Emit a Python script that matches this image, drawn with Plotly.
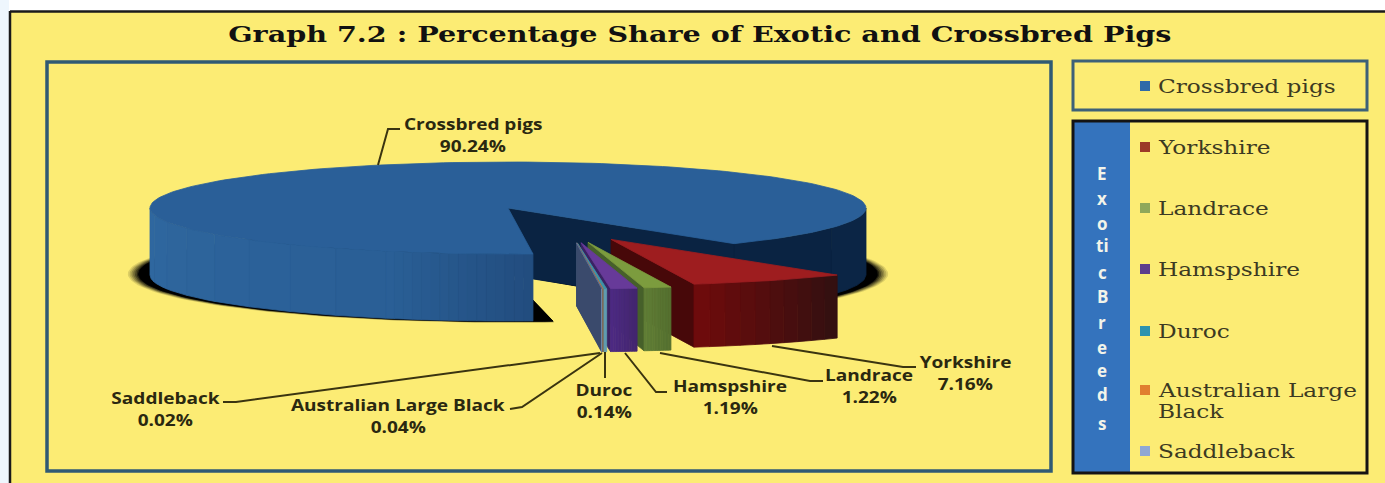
import math
import plotly.graph_objects as go

# ---------- data ----------
breeds = ["Crossbred pigs", "Yorkshire", "Landrace", "Hamspshire", "Duroc",
          "Australian Large Black", "Saddleback"]
shares = [90.24, 7.16, 1.22, 1.19, 0.14, 0.04, 0.02]
legend_colors = ["#2f6aa8", "#9c3a28", "#8fa85a", "#5d3e8c", "#2d93ae", "#e07f30", "#8fa8d4"]
top_colors = ["#2a5f98", "#9e1d1f", "#7c9c3e", "#673a99", "#3f93a8", "#c77a3a", "#5a6d92"]
wall_left = ["#2e669f", "#6d0b0c", "#5f7d36", "#4c2a82", "#5f9cb0", "#8a5a30", "#6f8aa8"]
wall_right = ["#0b2545", "#341010", "#55702f", "#43256f", "#5f9cb0", "#8a5a30", "#6f8aa8"]
side_colors = [None, "#470809", "#46602a", "#3a2363", "#34506e", "#34506e", "#3a4a6c"]

title_text = "Graph 7.2 : Percentage Share of Exotic and Crossbred Pigs"
strip_letters = ["E", "x", "o", "ti", "c", "B", "r", "e", "e", "d", "s"]

# ---------- pie geometry (screen pixels, y down, angles clockwise on screen) ----------
CX, CY, A, B = 508.0, 208.0, 358.0, 46.0
DEPTH_MAIN, DEPTH_EXP = 67.0, 63.0
START = 86.0
GROUP_DX, EXPLODE_X, EXPLODE_Y = 62.0, 92.7, 35.0

total = sum(shares)
spans = [s / total * 360.0 for s in shares]
angles = []
cur = START
for sp in spans:
    angles.append((cur, cur + sp))
    cur += sp


def pt(cx, cy, deg, a=A, b=B):
    t = math.radians(deg)
    return cx + a * math.cos(t), cy + b * math.sin(t)


def arc(cx, cy, a0, a1, a=A, b=B, n=None):
    n = n or max(2, int(abs(a1 - a0) / 1.5) + 2)
    return [pt(cx, cy, a0 + (a1 - a0) * i / (n - 1), a, b) for i in range(n)]


def mix(c0, c1, f):
    v0 = [int(c0[i:i + 2], 16) for i in (1, 3, 5)]
    v1 = [int(c1[i:i + 2], 16) for i in (1, 3, 5)]
    return "#%02x%02x%02x" % tuple(round(p + (q - p) * f) for p, q in zip(v0, v1))


fig = go.Figure()


def poly(points, color, opacity=1.0):
    xs = [p[0] for p in points] + [points[0][0]]
    ys = [p[1] for p in points] + [points[0][1]]
    fig.add_trace(go.Scatter(x=xs, y=ys, mode="lines", fill="toself", fillcolor=color,
                             line=dict(color=color, width=0 if opacity < 1 else 0.8), opacity=opacity,
                             hoverinfo="skip", showlegend=False))


def wall(cx, cy, a0, a1, depth, c0, c1, steps):
    for i in range(steps):
        b0 = a0 + (a1 - a0) * i / steps
        b1 = a0 + (a1 - a0) * (i + 1) / steps
        top = arc(cx, cy, b0, b1, n=5)
        bottom = [(x, y + depth) for x, y in reversed(top)]
        poly(top + bottom, mix(c0, c1, i / max(1, steps - 1)))


# soft shadow under the big slice: many faint layers, then a solid core
c0, c1 = angles[0]
for scale, op in [(1.062, 0.12), (1.057, 0.15), (1.052, 0.2), (1.047, 0.25),
                  (1.042, 0.35), (1.037, 0.5), (1.032, 1.0)]:
    a_s, b_s = A * scale, B * scale
    poly([(CX, CY + 66)] + arc(CX, CY + 66, c0 - 3, c1 + 3, a_s, b_s), "#000000", op)

# dark cut face of the big slice + far right wall
apex = (CX, CY)
edge = pt(CX, CY, c1)
poly([apex, edge, (edge[0], edge[1] + DEPTH_MAIN), (apex[0], apex[1] + DEPTH_MAIN)], "#0a2342")
wall(CX, CY, 360.0, c1, DEPTH_MAIN, "#0b2545", "#0a2342", 2)

# front-left wall of the big slice (gradient)
wall(CX, CY, c0, 110.0, DEPTH_MAIN, "#224d7f", "#2a5f96", 16)
wall(CX, CY, 110.0, 180.0, DEPTH_MAIN, "#2a5f96", "#2f679f", 8)

# top face of the big slice
poly([apex] + arc(CX, CY, c0, c1), top_colors[0])

# exploded slices, back to front
for i in range(1, len(breeds)):
    a0, a1 = angles[i]
    m = math.radians((a0 + a1) / 2)
    cx = CX + GROUP_DX + EXPLODE_X * math.cos(m)
    cy = CY + EXPLODE_Y * math.sin(m)
    outer = pt(cx, cy, a1)
    poly([(cx, cy), outer, (outer[0], outer[1] + DEPTH_EXP), (cx, cy + DEPTH_EXP)], side_colors[i])
    wall(cx, cy, a0, a1, DEPTH_EXP, wall_right[i], wall_left[i], 10 if spans[i] > 2 else 1)
    poly([(cx, cy)] + arc(cx, cy, a0, a1), top_colors[i])

# ---------- legend swatches ----------
leg_y = [86, 147, 208, 269, 331, 390, 451]
fig.add_trace(go.Scatter(x=[1145] * len(breeds), y=leg_y, mode="markers",
                         marker=dict(symbol="square", size=10, color=legend_colors),
                         hoverinfo="skip", showlegend=False))

# ---------- text ----------
ann = []
LABEL_FONT = dict(family="Open Sans", size=16, color="#2a2810", weight="bold")
label_xy = [(473, 124, 146), (965, 362, 384), (869, 375, 397), (730, 386, 408),
            (604, 390, 412), (398, 405, 427), (165, 398, 420)]
for name, val, (x, y0, y1) in zip(breeds, shares, label_xy):
    ann.append(dict(x=x, y=y0, text=name, showarrow=False, font=LABEL_FONT, name="stretch_label"))
    ann.append(dict(x=x, y=y1, text=f"{val:.2f}%", showarrow=False, font=LABEL_FONT))

ann.append(dict(x=700, y=34, text=title_text, showarrow=False,
                font=dict(family="DejaVu Serif", size=22, color="#111111", weight="bold")))

LEG_FONT = dict(family="DejaVu Serif", size=18, color="#3c3a22")
leg_text_y = [86, 147, 208, 269, 331, None, 451]
for name, y in zip(breeds, leg_text_y):
    if y is not None:
        ann.append(dict(x=1156, y=y, text=name, xanchor="left", align="left", showarrow=False, font=LEG_FONT))
ann.append(dict(x=1156, y=390, text="Australian Large", xanchor="left", align="left", showarrow=False, font=LEG_FONT))
ann.append(dict(x=1156, y=411, text="Black", xanchor="left", align="left", showarrow=False, font=LEG_FONT))

strip_y = [173, 198, 223, 245, 272, 296, 322, 347, 370, 394, 423]
for ch, y in zip(strip_letters, strip_y):
    ann.append(dict(x=1102, y=y, text=ch, showarrow=False,
                    font=dict(family="Open Sans", size=17, color="#f2f4ea", weight="bold")))

for a in ann:
    a.update(xref="x", yref="y")
    a.pop("name", None)

# ---------- panels ----------
YEL = "#fcec74"
shapes = [
    dict(type="rect", layer="below", x0=10, y0=12, x1=1386, y1=484, fillcolor=YEL,
         line=dict(width=0)),
    dict(type="rect", layer="below", x0=0, y0=0, x1=9, y1=484, fillcolor="#eef6fd", line=dict(width=0)),
    dict(type="line", layer="below", x0=10, y0=11.5, x1=1386, y1=11.5, line=dict(color="#1a1a1a", width=2.5)),
    dict(type="line", layer="below", x0=10, y0=11, x1=10, y1=484, line=dict(color="#1a1a1a", width=2.5)),
    dict(type="rect", layer="below", x0=47, y0=62, x1=1051, y1=471, line=dict(color="#2f5a74", width=3.5)),
    dict(type="rect", layer="below", x0=1073, y0=61, x1=1367, y1=110, line=dict(color="#3d6178", width=3)),
    dict(type="rect", layer="below", x0=1074, y0=122, x1=1130, y1=472, fillcolor="#3473bd", line=dict(width=0)),
    dict(type="rect", layer="below", x0=1073, y0=121, x1=1367, y1=473, line=dict(color="#141414", width=3)),
]

# leader lines
leaders = [
    [(378, 165), (388, 129), (400, 129)],
    [(772, 346), (903, 367), (916, 367)],
    [(660, 353), (810, 381), (823, 381)],
    [(625, 353), (656, 392), (667, 392)],
    [(605, 352), (605, 378)],
    [(602, 353), (522, 407), (510, 409)],
    [(600, 353), (236, 402), (223, 402)],
]
for pts in leaders:
    fig.add_trace(go.Scatter(x=[p[0] for p in pts], y=[p[1] for p in pts], mode="lines",
                             line=dict(color="#3a3410", width=2), hoverinfo="skip", showlegend=False))

fig.update_layout(
    width=1385, height=483, autosize=False,
    margin=dict(l=0, r=0, t=0, b=0),
    paper_bgcolor="#ffffff", plot_bgcolor="rgba(0,0,0,0)",
    xaxis=dict(range=[0, 1385], visible=False, fixedrange=True),
    yaxis=dict(range=[483, 0], visible=False, fixedrange=True),
    showlegend=False, shapes=shapes, annotations=ann,
)

# The reference's lettering is wider than the installed fonts: widen the real text in place.
STRETCH = """
document.body.style.margin='0';document.body.style.overflow='hidden';
document.querySelectorAll('.annotation-text').forEach(function(t){
  var fam=t.style.fontFamily||'', size=parseFloat(t.style.fontSize)||0, k=1;
  if(fam.indexOf('Serif')>=0){k=size>20?1.30:1.29;}
  else if(size===16){k=1.19;}
  if(k!==1){
    t.setAttribute('textLength',(t.getComputedTextLength()*k).toFixed(1));
    t.setAttribute('lengthAdjust','spacingAndGlyphs');
  }
});
"""
fig.write_html("out.html", config=dict(displayModeBar=False), post_script=STRETCH)
